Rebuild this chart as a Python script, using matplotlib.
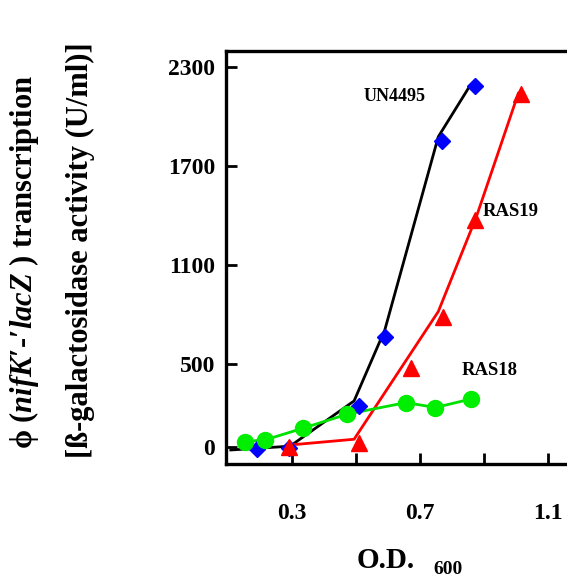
import matplotlib
matplotlib.use("Agg")
import matplotlib.pyplot as plt

plt.rcParams['font.family'] = ['Liberation Serif', 'DejaVu Serif']
plt.rcParams['font.weight'] = 'bold'
plt.rcParams['mathtext.fontset'] = 'custom'
plt.rcParams['mathtext.it'] = 'Liberation Serif:italic:bold'
plt.rcParams['mathtext.rm'] = 'Liberation Serif:bold'

# UN4495 (blue diamonds + black line)
un_x = [0.19, 0.292, 0.51, 0.59, 0.77, 0.872]
un_y = [-15, -8, 249, 663, 1852, 2183]
un_line_x = [0.109, 0.294, 0.494, 0.59, 0.757, 0.854]
un_line_y = [-20, 3, 277, 707, 1876, 2179]

# RAS19 (red triangles + red line)
r19_x = [0.292, 0.51, 0.671, 0.771, 0.873, 1.016]
r19_y = [0, 22, 475, 784, 1373, 2135]
r19_line_x = [0.292, 0.494, 0.757, 0.876, 1.007]
r19_line_y = [10, 45, 818, 1392, 2139]

# RAS18 (green circles)
r18_x = [0.153, 0.216, 0.335, 0.473, 0.656, 0.748, 0.858]
r18_y = [31, 41, 112, 197, 267, 237, 288]

xticks = [0.3, 0.5, 0.7, 0.9, 1.1]
xticklabels = ['0.3', '', '0.7', '', '1.1']
yticks = [0, 500, 1100, 1700, 2300]

fig = plt.figure(figsize=(5.67, 5.82), dpi=100)
ax = fig.add_axes([0.3986, 0.2027, 0.6014, 0.7096])

ax.plot(un_line_x, un_line_y, color='black', lw=2)
ax.plot(r19_line_x, r19_line_y, color='#ff0000', lw=2)
ax.plot(r18_x, r18_y, color='#00e000', lw=2)

ax.plot(un_x, un_y, 'D', color='#0000ff', ms=8.5, ls='none')
ax.plot(r19_x, r19_y, '^', color='#ff0000', ms=12, ls='none')
ax.plot(r18_x, r18_y, 'o', color='#00ee00', ms=11.5, ls='none')

ax.text(0.619, 2117, 'UN4495', fontsize=13, fontweight='bold', ha='center', va='center')
ax.text(0.984, 1421, 'RAS19', fontsize=13.5, fontweight='bold', ha='center', va='center')
ax.text(0.919, 459, 'RAS18', fontsize=13.5, fontweight='bold', ha='center', va='center')

ax.set_xlim(0.094, 1.159)
ax.set_ylim(-105, 2395)
ax.set_xticks(xticks)
ax.set_xticklabels(xticklabels)
ax.set_yticks(yticks)
ax.tick_params(axis='both', direction='in', length=8, width=2, labelsize=17)
ax.tick_params(axis='x', pad=28)
ax.tick_params(axis='y', pad=8)
for lab in ax.get_xticklabels() + ax.get_yticklabels():
    lab.set_fontweight('bold')

ax.spines['right'].set_visible(False)
for s in ['left', 'top', 'bottom']:
    ax.spines[s].set_linewidth(2.4)

fig.text(24 / 567, 1 - 262 / 582, "ϕ ($nifK′$-$′lacZ$ ) transcription",
         rotation=90, fontsize=22, fontweight='bold', ha='center', va='center')
fig.text(80 / 567, 1 - 250 / 582, "[ß-galactosidase activity (U/ml)]",
         rotation=90, fontsize=22, fontweight='bold', ha='center', va='center')

fig.text(386 / 567, 1 - 561 / 582, 'O.D.', fontsize=21, fontweight='bold',
         ha='center', va='center')
fig.text(448 / 567, 1 - 570 / 582, '600', fontsize=14, fontweight='bold',
         ha='center', va='center')

fig.savefig('out.png', dpi=100)
